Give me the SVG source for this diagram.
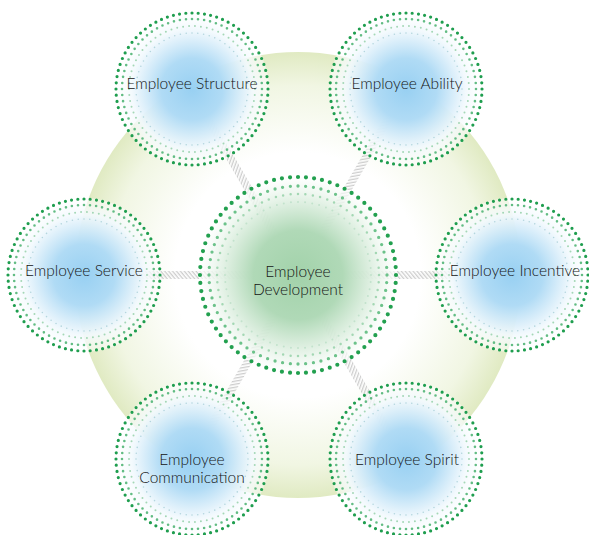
<svg xmlns="http://www.w3.org/2000/svg" width="589" height="535" viewBox="0 0 589 535">
<defs>
<radialGradient id="bg" cx="0.5" cy="0.5" r="0.5">
<stop offset="0" stop-color="#ffffff"/>
<stop offset="0.55" stop-color="#ffffff"/>
<stop offset="0.85" stop-color="#f1f6e3"/>
<stop offset="1" stop-color="#e0eac2"/>
</radialGradient>
<radialGradient id="blue" cx="0.5" cy="0.5" r="0.5">
<stop offset="0" stop-color="#98d0f2"/>
<stop offset="0.4" stop-color="#b0dbf5"/>
<stop offset="0.78" stop-color="#f2f9fd" stop-opacity="0.92"/>
<stop offset="1" stop-color="#ffffff" stop-opacity="0.45"/>
</radialGradient>
<radialGradient id="green" cx="0.5" cy="0.5" r="0.5">
<stop offset="0" stop-color="#a2d2aa"/>
<stop offset="0.45" stop-color="#b0d9b7"/>
<stop offset="0.8" stop-color="#e6f3e8" stop-opacity="0.9"/>
<stop offset="1" stop-color="#ffffff" stop-opacity="0.6"/>
</radialGradient>
<pattern id="hatch" width="3" height="3" patternUnits="userSpaceOnUse" patternTransform="rotate(-40)">
<rect width="1.3" height="3" fill="#bcbcbc"/>
</pattern>
</defs>
<style>
.r1{fill:none;stroke:#1f9e4f;stroke-width:3.2;stroke-linecap:round;stroke-dasharray:0 1}
.r2{fill:none;stroke:#62bc84;stroke-width:2.6;stroke-linecap:round;stroke-dasharray:0 1}
.r3{fill:none;stroke:#a4d7b6;stroke-width:2;stroke-linecap:round;stroke-dasharray:0 1}
.r4{fill:none;stroke:#b4d6de;stroke-width:1.6;stroke-linecap:round;stroke-dasharray:0 1}
.c1{fill:none;stroke:#22a04f;stroke-width:4.2;stroke-linecap:round;stroke-dasharray:0 1}
.c2{fill:none;stroke:#6cc28a;stroke-width:3.3;stroke-linecap:round;stroke-dasharray:0 1}
.c3{fill:none;stroke:#a3d7b3;stroke-width:2.5;stroke-linecap:round;stroke-dasharray:0 1}
.c4{fill:none;stroke:#c2e2cc;stroke-width:2;stroke-linecap:round;stroke-dasharray:0 1}
.lbl{font-family:"Lato","Open Sans","Liberation Sans",sans-serif;font-weight:300;font-size:15.5px;fill:#141414;text-anchor:middle}
.conn{fill:url(#hatch);opacity:0.75}
</style>
<circle id="backdrop" cx="298" cy="275" r="223" fill="url(#bg)"/>
<g id="connectors">
<rect class="conn" x="0" y="-4" width="214" height="8" transform="translate(298,275) rotate(-120)"/>
<rect class="conn" x="0" y="-4" width="214" height="8" transform="translate(298,275) rotate(-60)"/>
<rect class="conn" x="0" y="-4" width="214" height="8" transform="translate(298,275) rotate(0)"/>
<rect class="conn" x="0" y="-4" width="214" height="8" transform="translate(298,275) rotate(60)"/>
<rect class="conn" x="0" y="-4" width="214" height="8" transform="translate(298,275) rotate(120)"/>
<rect class="conn" x="0" y="-4" width="214" height="8" transform="translate(298,275) rotate(180)"/>
</g>
<g id="center">
<circle cx="298" cy="275" r="99" fill="url(#green)"/>
<circle class="c1" cx="298" cy="275" r="98" pathLength="76"/>
<circle class="c2" cx="298" cy="275" r="89" pathLength="72"/>
<circle class="c3" cx="298" cy="275" r="81" pathLength="68"/>
<circle class="c4" cx="298" cy="275" r="73" pathLength="64"/>
<text class="lbl" x="298" y="277">Employee</text>
<text class="lbl" x="298" y="295">Development</text>
</g>
<g id="structure">
<circle cx="192" cy="89" r="77" fill="url(#blue)"/>
<circle class="r1" cx="192" cy="89" r="76" pathLength="76"/>
<circle class="r2" cx="192" cy="89" r="70" pathLength="72"/>
<circle class="r3" cx="192" cy="89" r="63" pathLength="66"/>
<circle class="r4" cx="192" cy="89" r="56" pathLength="60"/>
<text class="lbl" x="192" y="89">Employee Structure</text>
</g>
<g id="ability">
<circle cx="406" cy="89" r="77" fill="url(#blue)"/>
<circle class="r1" cx="406" cy="89" r="76" pathLength="76"/>
<circle class="r2" cx="406" cy="89" r="70" pathLength="72"/>
<circle class="r3" cx="406" cy="89" r="63" pathLength="66"/>
<circle class="r4" cx="406" cy="89" r="56" pathLength="60"/>
<text class="lbl" x="407" y="89">Employee Ability</text>
</g>
<g id="service">
<circle cx="84" cy="275" r="77" fill="url(#blue)"/>
<circle class="r1" cx="84" cy="275" r="76" pathLength="76"/>
<circle class="r2" cx="84" cy="275" r="70" pathLength="72"/>
<circle class="r3" cx="84" cy="275" r="63" pathLength="66"/>
<circle class="r4" cx="84" cy="275" r="56" pathLength="60"/>
<text class="lbl" x="84" y="276">Employee Service</text>
</g>
<g id="incentive">
<circle cx="512" cy="275" r="77" fill="url(#blue)"/>
<circle class="r1" cx="512" cy="275" r="76" pathLength="76"/>
<circle class="r2" cx="512" cy="275" r="70" pathLength="72"/>
<circle class="r3" cx="512" cy="275" r="63" pathLength="66"/>
<circle class="r4" cx="512" cy="275" r="56" pathLength="60"/>
<text class="lbl" x="515" y="276">Employee Incentive</text>
</g>
<g id="communication">
<circle cx="192" cy="459" r="77" fill="url(#blue)"/>
<circle class="r1" cx="192" cy="459" r="76" pathLength="76"/>
<circle class="r2" cx="192" cy="459" r="70" pathLength="72"/>
<circle class="r3" cx="192" cy="459" r="63" pathLength="66"/>
<circle class="r4" cx="192" cy="459" r="56" pathLength="60"/>
<text class="lbl" x="192" y="465">Employee</text>
<text class="lbl" x="192" y="483">Communication</text>
</g>
<g id="spirit">
<circle cx="406" cy="459" r="77" fill="url(#blue)"/>
<circle class="r1" cx="406" cy="459" r="76" pathLength="76"/>
<circle class="r2" cx="406" cy="459" r="70" pathLength="72"/>
<circle class="r3" cx="406" cy="459" r="63" pathLength="66"/>
<circle class="r4" cx="406" cy="459" r="56" pathLength="60"/>
<text class="lbl" x="407" y="465">Employee Spirit</text>
</g>
</svg>
